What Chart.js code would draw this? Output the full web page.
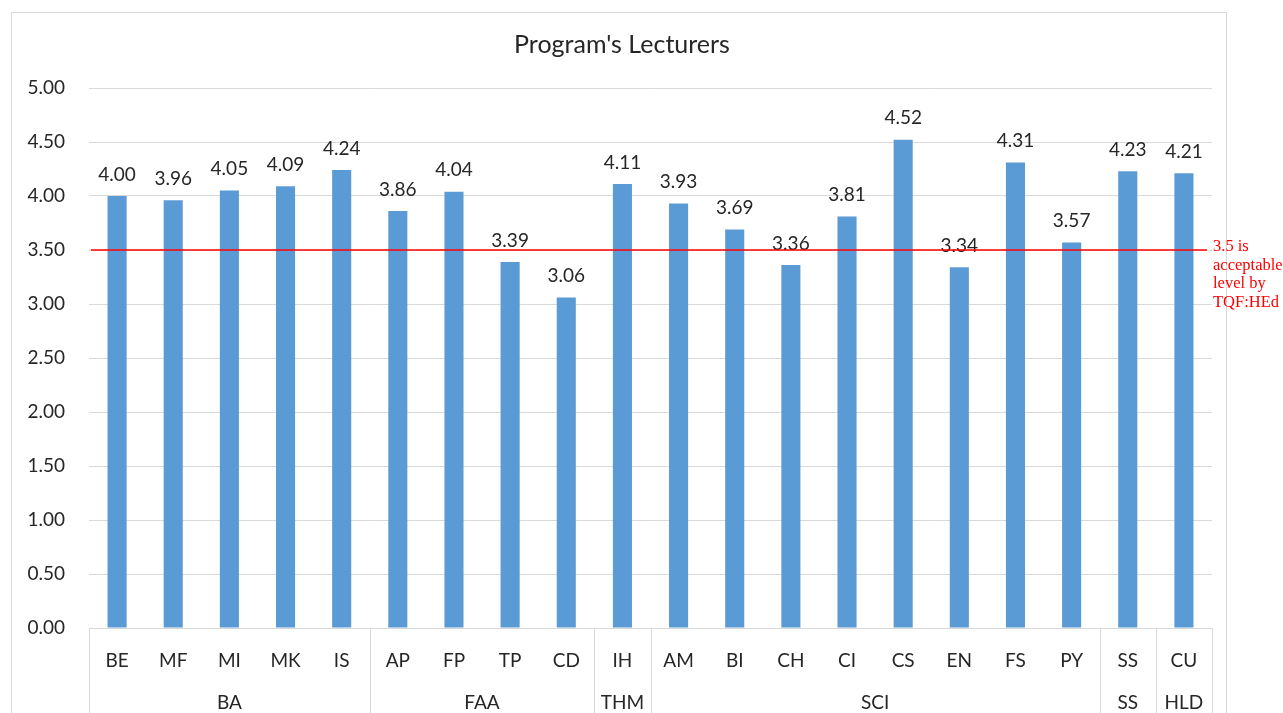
<!DOCTYPE html>
<html>
<head>
<meta charset="utf-8">
<script src="https://cdn.jsdelivr.net/npm/chart.js@4.4.0/dist/chart.umd.min.js"></script>
<style>
  html, body { margin: 0; padding: 0; background: #fff; }
  #chartContainer { width: 1283px; height: 713px; }
</style>
</head>
<body>
<div id="chartContainer"><canvas id="chartCanvas" width="1283" height="713"></canvas></div>
<script>
// chart data
const programs = ["BE", "MF", "MI", "MK", "IS", "AP", "FP", "TP", "CD", "IH", "AM", "BI", "CH", "CI", "CS", "EN", "FS", "PY", "SS", "CU"];
const scores = [4.00, 3.96, 4.05, 4.09, 4.24, 3.86, 4.04, 3.39, 3.06, 4.11, 3.93, 3.69, 3.36, 3.81, 4.52, 3.34, 4.31, 3.57, 4.23, 4.21];
const faculties = ["BA", "FAA", "THM", "SCI", "SS", "HLD"];
const facultySizes = [5, 4, 1, 8, 1, 1];
const yTicks = [0, 0.5, 1, 1.5, 2, 2.5, 3, 3.5, 4, 4.5, 5];
const acceptableLevel = 3.5;
const noteLines = ["3.5 is", "acceptable", "level by", "TQF:HEd"];

const baseFont = "Lato, 'Open Sans', sans-serif";
const textColor = "#262626";
const lineGray = "#d9d9d9";

// frame + title, data labels, threshold line, group axis
const extrasPlugin = {
    id: "extras",
    beforeDraw(chart) {
        const ctx = chart.ctx;
        ctx.save();
        ctx.fillStyle = "#fff";
        ctx.fillRect(0, 0, chart.width, chart.height);
        ctx.strokeStyle = lineGray;
        ctx.lineWidth = 1;
        ctx.strokeRect(11.5, 12.5, 1215, chart.height + 10);
        ctx.fillStyle = textColor;
        ctx.font = "25px " + baseFont;
        ctx.textAlign = "center";
        ctx.textBaseline = "middle";
        ctx.fillText("Program's Lecturers", 622, 45);
        ctx.restore();
    },
    afterDraw(chart) {
        const ctx = chart.ctx;
        const x = chart.scales.x;
        const y = chart.scales.y;
        const area = chart.chartArea;
        ctx.save();

        // value labels
        ctx.fillStyle = textColor;
        ctx.font = "19px " + baseFont;
        ctx.textAlign = "center";
        ctx.textBaseline = "bottom";
        scores.forEach((v, i) => {
            ctx.fillText(v.toFixed(2), x.getPixelForValue(i), y.getPixelForValue(v) - 12);
        });

        // acceptable level line
        const ly = y.getPixelForValue(acceptableLevel);
        ctx.strokeStyle = "#f00";
        ctx.lineWidth = 1.5;
        ctx.beginPath();
        ctx.moveTo(area.left + 2, ly);
        ctx.lineTo(area.right - 5, ly);
        ctx.stroke();

        ctx.fillStyle = "#f00";
        ctx.font = "16.5px 'Liberation Serif', serif";
        ctx.textAlign = "left";
        ctx.textBaseline = "alphabetic";
        noteLines.forEach((t, i) => {
            ctx.fillText(t, area.right + 1, ly - 4 + 5 + i * 18.5);
        });

        // group separators and labels
        const half = (x.getPixelForValue(1) - x.getPixelForValue(0)) / 2;
        ctx.strokeStyle = lineGray;
        ctx.lineWidth = 1;
        ctx.fillStyle = textColor;
        ctx.font = "19px " + baseFont;
        ctx.textAlign = "center";
        ctx.textBaseline = "middle";
        let start = 0;
        const drawSep = px => {
            const sx = Math.round(px) + 0.5;
            ctx.beginPath();
            ctx.moveTo(sx, area.bottom);
            ctx.lineTo(sx, chart.height);
            ctx.stroke();
        };
        drawSep(area.left);
        faculties.forEach((f, gi) => {
            const end = start + facultySizes[gi] - 1;
            const cx = (x.getPixelForValue(start) + x.getPixelForValue(end)) / 2;
            ctx.fillText(f, cx, 703);
            drawSep(x.getPixelForValue(end) + half);
            start = end + 1;
        });
        ctx.restore();
    }
};

new Chart(document.getElementById("chartCanvas"), {
    type: "bar",
    data: {
        labels: programs,
        datasets: [{
            data: scores,
            backgroundColor: "#5b9bd5",
            barPercentage: 0.34,
            categoryPercentage: 1
        }]
    },
    options: {
        responsive: false,
        animation: false,
        layout: { padding: { top: 88, left: 0, right: 71, bottom: 0 } },
        plugins: { legend: { display: false }, tooltip: { enabled: false }, title: { display: false } },
        scales: {
            x: {
                afterFit(scale) { scale.height = 85; },
                grid: { display: false },
                border: { display: true, color: lineGray, width: 1 },
                ticks: { color: textColor, font: { size: 19, family: baseFont }, padding: 13, maxRotation: 0, autoSkip: false }
            },
            y: {
                min: 0,
                max: 5,
                afterFit(scale) { scale.width = 89; },
                afterBuildTicks(scale) { scale.ticks = yTicks.map(v => ({ value: v })); },
                grid: { color: lineGray, drawTicks: false },
                border: { display: false },
                ticks: {
                    color: textColor,
                    font: { size: 19, family: baseFont },
                    padding: 24,
                    callback: v => Number(v).toFixed(2)
                }
            }
        }
    },
    plugins: [extrasPlugin]
});
</script>
</body>
</html>
